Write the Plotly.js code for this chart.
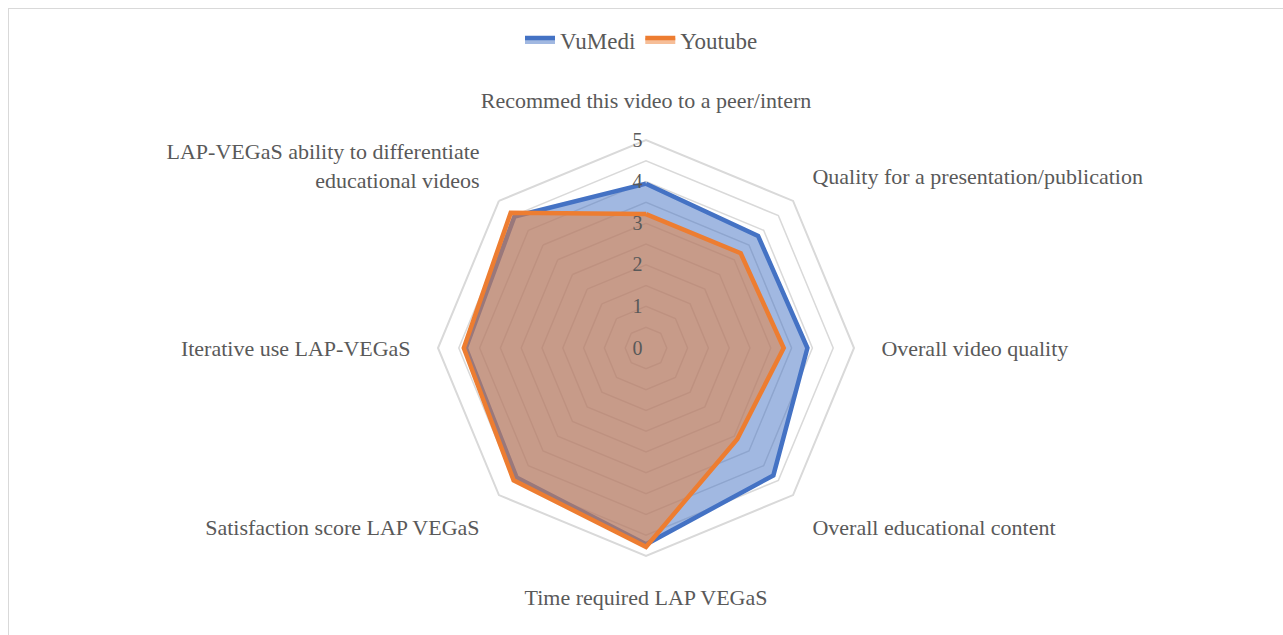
<!DOCTYPE html>
<html>
<head>
<meta charset="utf-8">
<script src="https://cdn.plot.ly/plotly-3.0.1.min.js"></script>
<style>
  html, body { margin: 0; padding: 0; background: #ffffff; }
  #frame { position: absolute; left: 8px; top: 8px; width: 1290px; height: 640px; border: 1px solid #d9d9d9; }
  #chart { position: absolute; left: 0; top: 0; width: 1283px; height: 635px; }
</style>
</head>
<body>
<div id="frame"></div>
<div id="chart"></div>
<script>
const categories = [
  "Recommed this video to a peer/intern",
  "Quality for a presentation/publication",
  "Overall video quality",
  "Overall educational content",
  "Time required LAP VEGaS",
  "Satisfaction score LAP VEGaS",
  "Iterative use LAP-VEGaS",
  "LAP-VEGaS ability to differentiate<br>educational videos"
];
const vumedi = [3.95, 3.81, 3.88, 4.33, 4.72, 4.40, 4.33, 4.47];
const youtube = [3.22, 3.22, 3.31, 3.10, 4.78, 4.50, 4.38, 4.60];
const radialTickVals = [0, 0.5, 1, 1.5, 2, 2.5, 3, 3.5, 4, 4.5, 5];
const radialTickText = ["0", "", "1", "", "2", "", "3", "", "4", "", "5"];

function closed(arr) { return arr.concat([arr[0]]); }

const W = 1283, H = 635;
const cx = 646, cy = 348, R = 208;
const SERIF = "Liberation Serif, Times New Roman, serif";

const traces = [
  {
    type: "scatterpolar",
    name: "VuMedi",
    r: closed(vumedi),
    theta: closed(categories),
    mode: "lines",
    fill: "toself",
    fillcolor: "rgba(68,114,196,0.5)",
    line: { color: "#4472C4", width: 4.5 }
  },
  {
    type: "scatterpolar",
    name: "Youtube",
    r: closed(youtube),
    theta: closed(categories),
    mode: "lines",
    fill: "toself",
    fillcolor: "rgba(237,125,49,0.5)",
    line: { color: "#ED7D31", width: 4.5 }
  }
];

const layout = {
  width: W, height: H,
  margin: { l: 0, r: 0, t: 0, b: 0 },
  paper_bgcolor: "rgba(0,0,0,0)",
  plot_bgcolor: "rgba(0,0,0,0)",
  font: { family: SERIF, color: "#595959", size: 22 },
  showlegend: true,
  legend: {
    orientation: "h",
    x: 0.5, xanchor: "center",
    y: 1 - 40 / H, yanchor: "middle",
    font: { family: SERIF, size: 23, color: "#595959" },
    itemwidth: 30
  },
  polar: {
    domain: {
      x: [(cx - R) / W, (cx + R) / W],
      y: [1 - (cy + R) / H, 1 - (cy - R) / H]
    },
    gridshape: "linear",
    bgcolor: "rgba(0,0,0,0)",
    radialaxis: {
      range: [0, 5],
      tickvals: radialTickVals,
      ticktext: radialTickText,
      angle: 90,
      tickangle: 90,
      showline: false,
      ticks: "",
      gridcolor: "#d9d9d9",
      gridwidth: 1.5,
      tickfont: { family: SERIF, size: 20, color: "#595959" },
      side: "counterclockwise"
    },
    angularaxis: {
      direction: "clockwise",
      rotation: 90,
      showgrid: false,
      showline: true,
      linecolor: "#d9d9d9",
      linewidth: 2,
      ticks: "outside",
      ticklen: 22,
      tickcolor: "rgba(0,0,0,0)",
      tickfont: { family: SERIF, size: 22, color: "#595959" }
    }
  }
};

Plotly.newPlot("chart", traces, layout, { displayModeBar: false, staticPlot: true });
</script>
</body>
</html>
